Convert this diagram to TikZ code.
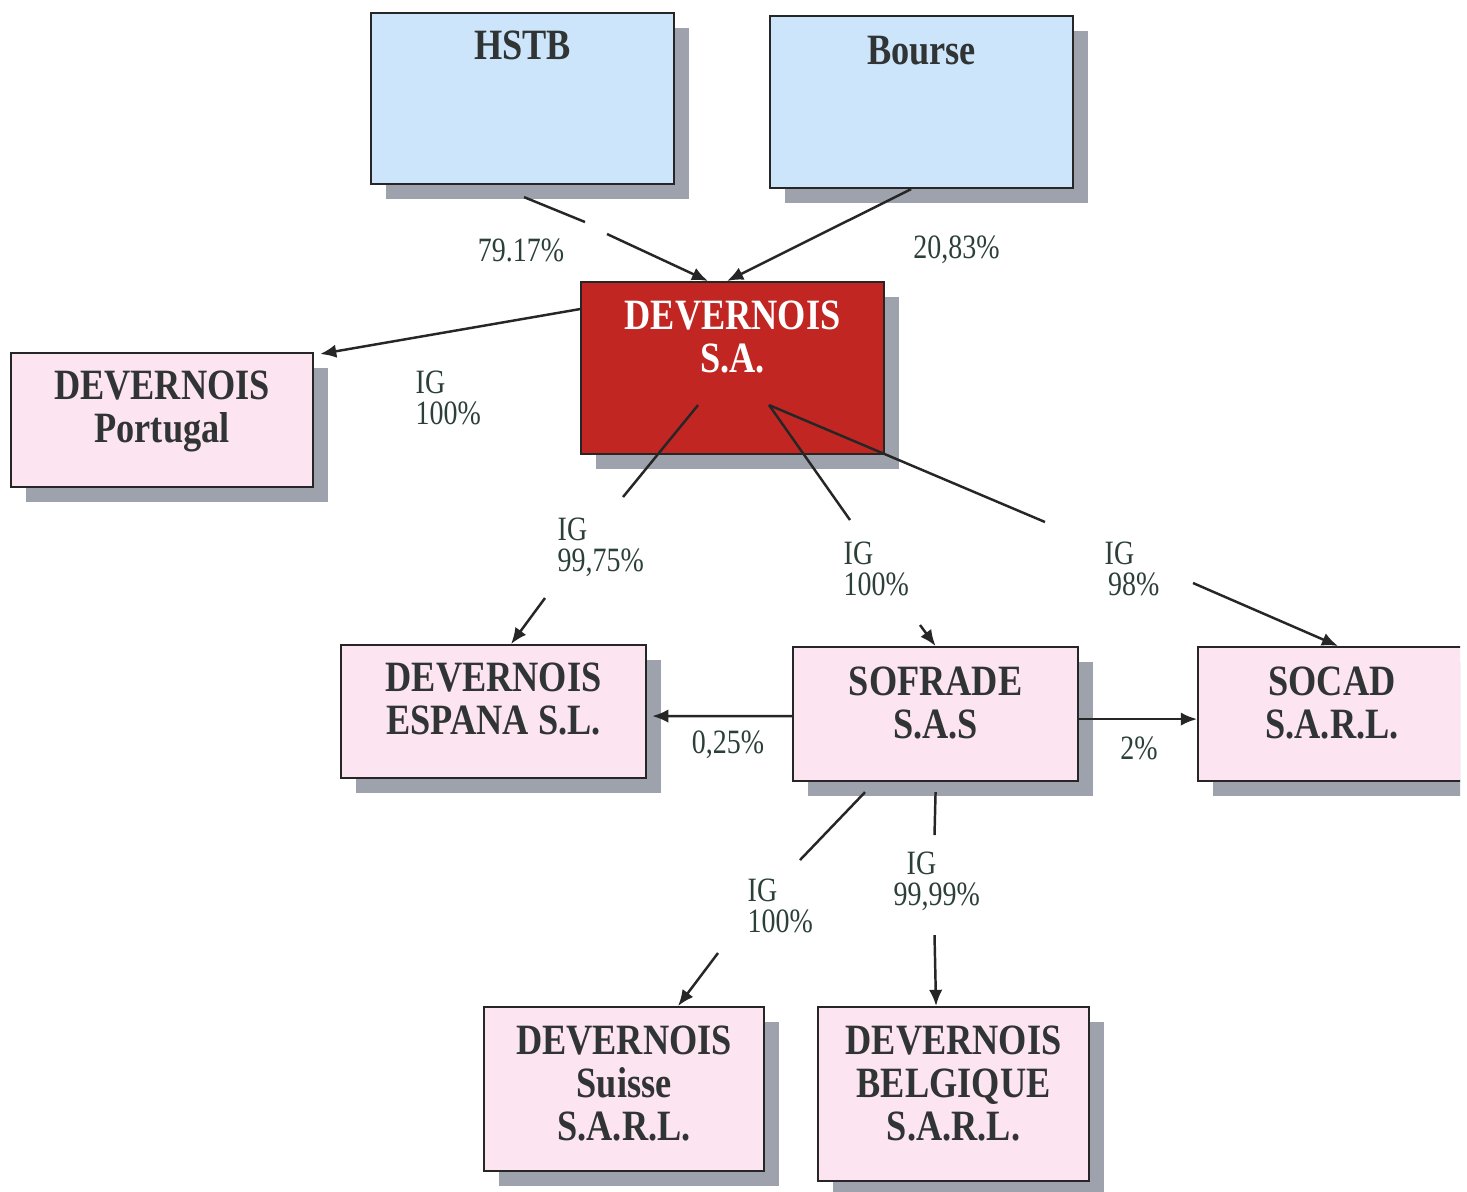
\documentclass[tikz,border=0pt]{standalone}
\usepackage{fontspec}
\usepackage{tikz}
\usetikzlibrary{arrows.meta,shadows}
\setmainfont{Liberation Serif}
\newfontfamily\boxfont[FakeStretch=0.84]{Liberation Serif}
\newfontfamily\pctfont[FakeStretch=0.82]{Liberation Serif}
\definecolor{boxblue}{RGB}{204,229,250}
\definecolor{boxpink}{RGB}{252,228,240}
\definecolor{boxred}{RGB}{194,38,34}
\definecolor{shadegray}{RGB}{158,162,172}
\definecolor{inkgray}{RGB}{48,52,52}
\definecolor{pctgreen}{RGB}{44,64,56}

\begin{document}
\begin{tikzpicture}[
    >={Latex[length=4.6pt,width=3.8pt]},
    entity/.style={draw=black!85, line width=0.6pt, anchor=north west, inner sep=0pt,
      drop shadow={shadow xshift=1.5mm, shadow yshift=-1.45mm, fill=shadegray, opacity=1}},
    boxtext/.style={anchor=north, inner sep=0pt, align=center, text=inkgray,
      font=\boxfont\fontsize{12.3}{12.2}\selectfont\bfseries},
    pct/.style={inner sep=0pt, align=left, text=pctgreen,
      font=\pctfont\fontsize{9.7}{8.9}\selectfont},
    link/.style={line width=0.7pt, draw=black!85}
  ]
    \useasboundingbox (0,0) rectangle (14.67,-11.91);
    \fill[white] (0,0) rectangle (14.67,-11.91);

    % Shareholders
    \node[entity, fill=boxblue, minimum width=3.03cm, minimum height=1.71cm] (HSTB) at (3.70,-0.12) {};
    \node[boxtext] (HSTBt) at ([yshift=-1.8mm]HSTB.north) {HSTB};
    \node[entity, fill=boxblue, minimum width=3.03cm, minimum height=1.72cm] (Bourse) at (7.69,-0.15) {};
    \node[boxtext] (Bourset) at ([yshift=-2mm]Bourse.north) {Bourse};

    % Parent company
    \node[entity, fill=boxred, minimum width=3.03cm, minimum height=1.72cm] (SA) at (5.80,-2.81) {};
    \node[boxtext, text=white] (SAt) at ([yshift=-1.9mm]SA.north) {DEVERNOIS\\S.A.};

    % Subsidiaries
    \node[entity, fill=boxpink, minimum width=3.02cm, minimum height=1.34cm] (Portugal) at (0.10,-3.52) {};
    \node[boxtext] (Portugalt) at ([yshift=-1.8mm]Portugal.north) {DEVERNOIS\\Portugal};
    \node[entity, fill=boxpink, minimum width=3.05cm, minimum height=1.33cm] (Espana) at (3.40,-6.44) {};
    \node[boxtext] (Espanat) at ([yshift=-1.8mm]Espana.north) {DEVERNOIS\\ESPANA S.L.};
    \node[entity, fill=boxpink, minimum width=2.85cm, minimum height=1.34cm] (Sofrade) at (7.92,-6.46) {};
    \node[boxtext] (Sofradet) at ([yshift=-2mm]Sofrade.north) {SOFRADE\\S.A.S};
    \begin{scope}
      \clip (0,0) rectangle (14.60,-11.91);
      \node[entity, fill=boxpink, minimum width=2.68cm, minimum height=1.34cm] (Socad) at (11.97,-6.46) {};
      \node[boxtext] (Socadt) at ([yshift=-2mm]Socad.north) {SOCAD\\S.A.R.L.};
    \end{scope}
    \node[entity, fill=boxpink, minimum width=2.80cm, minimum height=1.64cm] (Suisse) at (4.83,-10.06) {};
    \node[boxtext] (Suisset) at ([yshift=-1.9mm]Suisse.north) {DEVERNOIS\\Suisse\\S.A.R.L.};
    \node[entity, fill=boxpink, minimum width=2.71cm, minimum height=1.74cm] (Belgique) at (8.17,-10.06) {};
    \node[boxtext] (Belgiquet) at ([yshift=-1.9mm]Belgique.north) {DEVERNOIS\\BELGIQUE\\S.A.R.L.};

    % Break points of the connectors
    \coordinate (saL) at ([xshift=-3.45mm,yshift=-3.7mm]SA.center);
    \coordinate (saR) at ([xshift=3.65mm,yshift=-3.7mm]SA.center);
    \coordinate (h1) at (5.85,-2.22);
    \coordinate (h2) at (6.07,-2.34);
    \coordinate (e1) at (6.23,-4.97);
    \coordinate (e2) at (5.45,-5.98);
    \coordinate (f1) at (8.50,-5.20);
    \coordinate (f2) at (9.20,-6.25);
    \coordinate (c1) at (10.45,-5.22);
    \coordinate (c2) at (11.93,-5.83);
    \coordinate (s1) at (8.00,-8.60);
    \coordinate (s2) at (7.18,-9.53);
    \coordinate (b1) at (9.345,-8.35);
    \coordinate (b2) at (9.345,-9.35);

    % Draw edges with arrows
    \draw[link] ([xshift=0.15mm,yshift=-1.2mm]HSTB.south) -- (h1);
    \draw[link, ->] (h2) -- ([xshift=-2.45mm]SA.north);
    \draw[link, ->] ([xshift=-1.05mm]Bourse.south) -- ([xshift=-0.55mm]SA.north);
    \draw[link, ->] ([yshift=5.9mm]SA.west) -- ([xshift=0.6mm,yshift=-0.2mm]Portugal.north east);
    \draw[link] (saL) -- (e1);
    \draw[link, ->] (e2) -- ([xshift=1.75mm]Espana.north);
    \draw[link] (saR) -- (f1);
    \draw[link, ->] (f2) -- (Sofrade.north);
    \draw[link] (saR) -- (c1);
    \draw[link, ->] (c2) -- ([xshift=0.6mm]Socad.north);
    \draw[link, ->] ([yshift=-0.2mm]Sofrade.west) -- ([xshift=0.5mm,yshift=-0.45mm]Espana.east);
    \draw[link, ->] ([yshift=-0.5mm]Sofrade.east) -- ([yshift=-0.5mm]Socad.west);
    \draw[link] ([xshift=-7.05mm,yshift=-1mm]Sofrade.south) -- (s1);
    \draw[link, ->] (s2) -- ([xshift=5.4mm]Suisse.north);
    \draw[link] ([yshift=-1mm]Sofrade.south) -- (b1);
    \draw[link, ->] (b2) -- ([xshift=-1.75mm]Belgique.north);

    % Percentages
    \node[pct] (pHSTB) at (5.21,-2.50) {79.17\%};
    \node[pct] (pBourse) at (9.565,-2.50) {20,83\%};
    \node[pct, anchor=north west] (pPortugal) at (4.15,-3.70) {IG\\100\%};
    \node[pct, anchor=north west] (pEspana) at (5.57,-5.17) {IG\\99,75\%};
    \node[pct, anchor=north west] (pSofrade) at (8.43,-5.41) {IG\\100\%};
    \node[pct, anchor=north west] (pSocad) at (11.04,-5.41) {IG\\\hspace*{1pt}98\%};
    \node[pct] (pEspanaB) at (7.28,-7.45) {0,25\%};
    \node[pct] (pSocadB) at (11.39,-7.48) {2\%};
    \node[pct, anchor=north west] (pSuisse) at (7.47,-8.78) {IG\\100\%};
    \node[pct, anchor=north west] (pBelgique) at (8.93,-8.51) {\hspace*{3.7pt}IG\\99,99\%};
\end{tikzpicture}
\end{document}
